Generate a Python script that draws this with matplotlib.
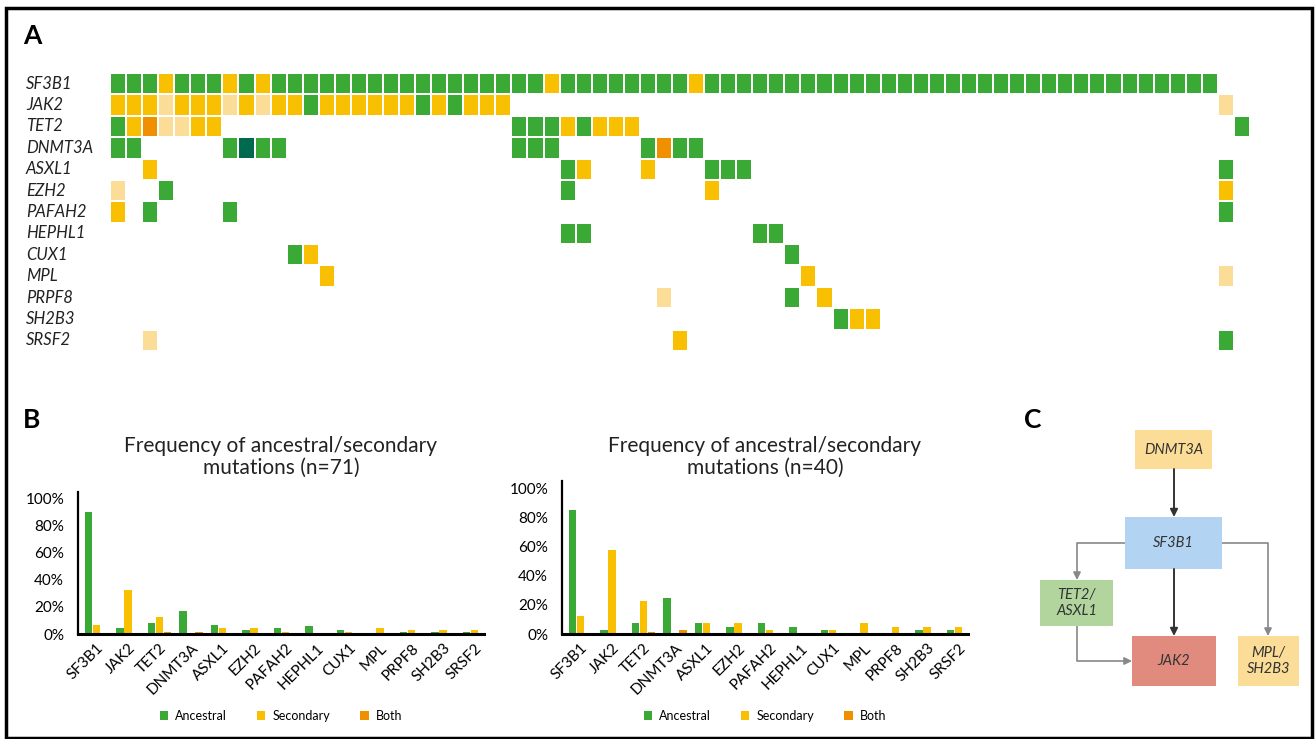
import numpy as np
import matplotlib
matplotlib.use("Agg")
import matplotlib.pyplot as plt
from matplotlib.colors import ListedColormap, BoundaryNorm
from matplotlib.patches import Rectangle
from matplotlib.transforms import blended_transform_factory

plt.rcParams['font.family'] = ['Lato', 'DejaVu Sans']

GREEN = '#3aa935'
YELLOW = '#f8c000'
LIGHT = '#fcdd98'
ORANGE = '#f08f00'
TEAL = '#006a4e'

# ---- panel A: one string per gene, one char per patient (71 patients)
# . none, A ancestral, S secondary, L secondary (light), B both, D ancestral (dark)
genes = ["SF3B1", "JAK2", "TET2", "DNMT3A", "ASXL1", "EZH2", "PAFAH2",
         "HEPHL1", "CUX1", "MPL", "PRPF8", "SH2B3", "SRSF2"]
patients = {
    "SF3B1":  "AAASAAASAS AAAAAAAAAA AAAAAAASAA AAAAAASAAA AAAAAAAAAA AAAAAAAAAA AAAAAAAAA. .",
    "JAK2":   "SSSLSSSLSL SSASSSSSSA SASSS..... .......... .......... .......... .........L .",
    "TET2":   "ASBLLSS... .......... .....AAASA SSS....... .......... .......... .......... A",
    "DNMT3A": "AA.....ADA A......... .....AAA.. ...ABAA... .......... .......... .......... .",
    "ASXL1":  "..S....... .......... ........AS ...S...AAA .......... .......... .........A .",
    "EZH2":   "L..A...... .......... ........A. .......S.. .......... .......... .........S .",
    "PAFAH2": "S.A....A.. .......... .......... .......... .......... .......... .........A .",
    "HEPHL1": ".......... .......... ........AA .......... AA........ .......... .......... .",
    "CUX1":   ".......... .AS....... .......... .......... ..A....... .......... .......... .",
    "MPL":    ".......... ...S...... .......... .......... ...S...... .......... .........L .",
    "PRPF8":  ".......... .......... .......... ....L..... ..A.S..... .......... .......... .",
    "SH2B3":  ".......... .......... .......... .......... .....ASS.. .......... .......... .",
    "SRSF2":  "..L....... .......... .......... .....S.... .......... .......... .........A .",
}
code_of = {'.': 0, 'A': 1, 'S': 2, 'L': 3, 'B': 4, 'D': 5}

# ---- panel B: percent of patients
bar_genes = genes
anc_71 = [90.1, 4.2, 8.5, 16.9, 7.0, 2.8, 4.2, 5.6, 2.8, 0, 1.4, 1.4, 1.4]
sec_71 = [7.0, 32.4, 12.7, 0, 4.2, 4.2, 1.4, 0, 1.4, 4.2, 2.8, 2.8, 2.8]
both_71 = [0, 0, 1.4, 1.4, 0, 0, 0, 0, 0, 0, 0, 0, 0]
anc_40 = [85, 2.5, 7.5, 25, 7.5, 5, 7.5, 5, 2.5, 0, 0, 2.5, 2.5]
sec_40 = [12.5, 57.5, 22.5, 0, 7.5, 7.5, 2.5, 0, 2.5, 7.5, 5, 5, 5]
both_40 = [0, 0, 1.3, 2.5, 0, 0, 0, 0, 0, 0, 0, 0, 0]

W, H = 1315, 739
fig = plt.figure(figsize=(W / 100, H / 100), dpi=100)


def px_axes(x0, y0, x1, y1):
    return fig.add_axes([x0 / W, 1 - y1 / H, (x1 - x0) / W, (y1 - y0) / H])


# border
fig.add_artist(Rectangle((6 / W, 1.5 / H), (1312 - 6) / W, (731 - 1.5) / H,
                         transform=fig.transFigure, fill=False, ec='black', lw=2.5))

for lab, x, y in [("A", 23, 36), ("B", 23, 420), ("C", 1024, 420)]:
    fig.text(x / W, 1 - y / H, lab, fontsize=19, fontweight='bold', va='center')

# ---- heatmap
codes = np.array([[code_of[c] for c in patients[g].replace(" ", "")] for g in genes])
cmap = ListedColormap(['white', GREEN, YELLOW, LIGHT, ORANGE, TEAL])
norm = BoundaryNorm(np.arange(-0.5, 6.5, 1), cmap.N)
axA = px_axes(110, 73, 1250, 351)
axA.pcolormesh(codes, cmap=cmap, norm=norm, edgecolors='white', linewidth=1.3)
axA.set_xlim(0, codes.shape[1])
axA.set_ylim(len(genes), 0)
axA.axis('off')
tr = blended_transform_factory(fig.transFigure, axA.transData)
for i, g in enumerate(genes):
    axA.text(26 / W, i + 0.5, g, transform=tr, ha='left', va='center',
             style='italic', fontsize=12, color='#222222')


# ---- bar charts
def freq_chart(ax, anc, sec, both, n, cx):
    x = np.arange(len(bar_genes))
    w, off = 0.23, 0.254
    ax.bar(x - off, anc, w, color=GREEN, label='Ancestral')
    ax.bar(x, sec, w, color=YELLOW, label='Secondary')
    ax.bar(x + off, both, w, color=ORANGE, label='Both')
    ax.set_xlim(-0.59, 12.3)
    ax.set_ylim(0, 105)
    ax.set_yticks(range(0, 101, 20))
    ax.set_yticklabels([f"{v}%" for v in range(0, 101, 20)], fontsize=11)
    ax.set_xticks(x)
    ax.set_xticklabels(bar_genes, rotation=45, ha='right', rotation_mode='anchor', fontsize=11)
    ax.tick_params(length=0)
    ax.tick_params(axis='y', pad=10)
    ax.tick_params(axis='x', pad=5)
    for s in ['top', 'right']:
        ax.spines[s].set_visible(False)
    ax.spines['left'].set_linewidth(1.6)
    ax.spines['bottom'].set_linewidth(2.2)
    fig.text(cx / W, 1 - 457 / H, f"Frequency of ancestral/secondary\nmutations (n={n})",
             ha='center', va='center', fontsize=15, linespacing=1.15, color='#222222')
    ax.legend(loc='center', bbox_to_anchor=(cx / W, 1 - 716 / H), bbox_transform=fig.transFigure,
              ncol=3, frameon=False, fontsize=9, handlelength=0.65, handleheight=0.65,
              handletextpad=0.6, columnspacing=2.4)


axB1 = px_axes(78, 634 - 142, 484, 634)
freq_chart(axB1, anc_71, sec_71, both_71, 71, 281)
axB2 = px_axes(562, 634 - 153, 968, 634)
freq_chart(axB2, anc_40, sec_40, both_40, 40, 765)

# ---- panel C flow chart (pixel layout)
axC = px_axes(1020, 420, 1310, 700)
axC.set_xlim(1020, 1310)
axC.set_ylim(700, 420)
axC.axis('off')
boxes = {
    "DNMT3A": ((1135, 430, 1212, 469), '#fcdd97'),
    "SF3B1": ((1125, 517, 1222, 569), '#b2d4f2'),
    "TET2/\nASXL1": ((1040, 580, 1113, 626), '#b2d59e'),
    "JAK2": ((1132, 636, 1216, 686), '#e08b7e'),
    "MPL/\nSH2B3": ((1238, 636, 1299, 686), '#fcdd97'),
}
for name, ((x0, y0, x1, y1), col) in boxes.items():
    axC.add_patch(Rectangle((x0, y0), x1 - x0, y1 - y0, fc=col, ec='none'))
    axC.text((x0 + x1) / 2, (y0 + y1) / 2, name, ha='center', va='center',
             style='italic', fontsize=10.5, color='#333333', linespacing=1.25)


def flow(points, color, lw):
    xs, ys = zip(*points)
    axC.plot(xs[:-1], ys[:-1], color=color, lw=lw, solid_capstyle='butt')
    axC.annotate('', xy=points[-1], xytext=points[-2],
                 arrowprops=dict(arrowstyle='-|>', color=color, lw=lw,
                                 mutation_scale=11, shrinkA=0, shrinkB=0))


flow([(1174, 469), (1174, 517)], '#333333', 1.4)
flow([(1174, 569), (1174, 636)], '#333333', 1.4)
flow([(1125, 543), (1077, 543), (1077, 580)], '#888888', 1.2)
flow([(1222, 543), (1268, 543), (1268, 636)], '#888888', 1.2)
flow([(1077, 626), (1077, 661), (1132, 661)], '#888888', 1.2)

fig.savefig("out.png", dpi=100)
